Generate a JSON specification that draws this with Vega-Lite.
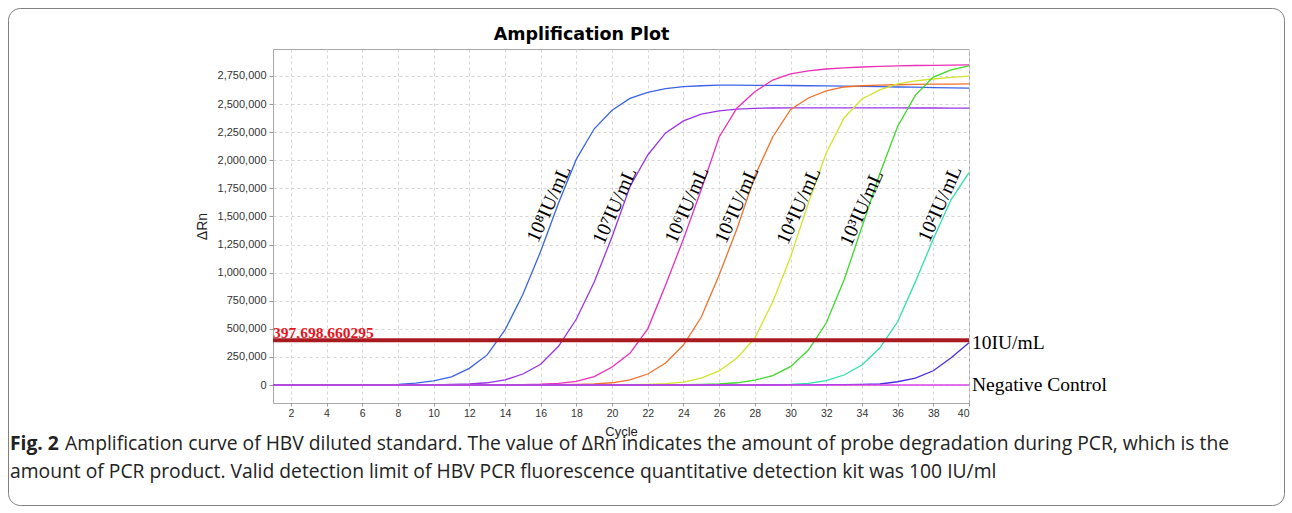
{
  "$schema": "https://vega.github.io/schema/vega-lite/v6.json",
  "autosize": "none",
  "width": 696,
  "height": 354,
  "padding": {"left": 273, "top": 49, "right": 323, "bottom": 110},
  "background": "white",
  "title": {
    "text": "Fig. 2",
    "subtitle": ["\u200b\u00a0\u00a0\u00a0\u00a0\u00a0\u00a0\u00a0\u00a0\u00a0\u00a0\u00a0Amplification curve of HBV diluted standard. The value of ΔRn indicates the amount of probe degradation during PCR, which is the", "amount of PCR product. Valid detection limit of HBV PCR fluorescence quantitative detection kit was 100 IU/ml"],
    "orient": "bottom",
    "anchor": "start",
    "frame": "group",
    "dx": -263,
    "offset": -71,
    "font": "Open Sans",
    "fontSize": 19.3,
    "fontWeight": "bold",
    "color": "#222222",
    "subtitleFont": "Open Sans",
    "subtitleFontSize": 19.3,
    "subtitleFontWeight": "normal",
    "subtitleColor": "#222222",
    "subtitleLineHeight": 28,
    "subtitlePadding": -19
  },
  "config": {
    "view": {"stroke": "#a8a8a8", "strokeWidth": 1},
    "axis": {
      "labelFont": "Liberation Sans",
      "labelColor": "#333333",
      "titleFont": "Liberation Sans",
      "titleFontWeight": "normal",
      "titleColor": "#222222",
      "tickColor": "#999999",
      "gridColor": "#d6d6d6",
      "gridDash": [3, 3],
      "gridWidth": 1,
      "domain": false,
      "labelOverlap": false
    }
  },
  "encoding": {
    "y": {"field": "v", "type": "quantitative",
          "scale": {"domain": [-160000, 2990000], "nice": false, "zero": false},
          "axis": {"orient": "left", "title": "ΔRn", "values": [0,250000,500000,750000,1000000,1250000,1500000,1750000,2000000,2250000,2500000,2750000],
                   "format": ",d", "labelFontSize": 11, "tickSize": 4, "labelPadding": 3, "titleFontSize": 14, "titlePadding": 8, "grid": true, "labelOverlap": false}}
  },
  "layer": [
    {
      "data": {"values": [
        {"s":"1e8","c":1,"v":0},{"s":"1e8","c":2,"v":0},{"s":"1e8","c":3,"v":0},{"s":"1e8","c":4,"v":0},{"s":"1e8","c":5,"v":0},{"s":"1e8","c":6,"v":1000},{"s":"1e8","c":7,"v":2000},{"s":"1e8","c":8,"v":6000},{"s":"1e8","c":9,"v":17000},{"s":"1e8","c":10,"v":37000},
        {"s":"1e8","c":11,"v":72000},{"s":"1e8","c":12,"v":148000},{"s":"1e8","c":13,"v":268000},{"s":"1e8","c":14,"v":490000},{"s":"1e8","c":15,"v":805000},{"s":"1e8","c":16,"v":1190000},{"s":"1e8","c":17,"v":1620000},{"s":"1e8","c":18,"v":2010000},{"s":"1e8","c":19,"v":2280000},{"s":"1e8","c":20,"v":2445000},
        {"s":"1e8","c":21,"v":2550000},{"s":"1e8","c":22,"v":2605000},{"s":"1e8","c":23,"v":2638000},{"s":"1e8","c":24,"v":2655000},{"s":"1e8","c":25,"v":2663000},{"s":"1e8","c":26,"v":2668000},{"s":"1e8","c":27,"v":2668000},{"s":"1e8","c":28,"v":2667000},{"s":"1e8","c":29,"v":2666000},{"s":"1e8","c":30,"v":2665000},
        {"s":"1e8","c":31,"v":2663000},{"s":"1e8","c":32,"v":2661000},{"s":"1e8","c":33,"v":2659000},{"s":"1e8","c":34,"v":2657000},{"s":"1e8","c":35,"v":2655000},{"s":"1e8","c":36,"v":2652000},{"s":"1e8","c":37,"v":2650000},{"s":"1e8","c":38,"v":2647000},{"s":"1e8","c":39,"v":2644000},{"s":"1e8","c":40,"v":2641000},

        {"s":"1e7","c":1,"v":0},{"s":"1e7","c":2,"v":0},{"s":"1e7","c":3,"v":0},{"s":"1e7","c":4,"v":0},{"s":"1e7","c":5,"v":0},{"s":"1e7","c":6,"v":0},{"s":"1e7","c":7,"v":0},{"s":"1e7","c":8,"v":0},{"s":"1e7","c":9,"v":1000},{"s":"1e7","c":10,"v":2000},
        {"s":"1e7","c":11,"v":5000},{"s":"1e7","c":12,"v":9000},{"s":"1e7","c":13,"v":20000},{"s":"1e7","c":14,"v":45000},{"s":"1e7","c":15,"v":98000},{"s":"1e7","c":16,"v":185000},{"s":"1e7","c":17,"v":345000},{"s":"1e7","c":18,"v":587000},{"s":"1e7","c":19,"v":917000},{"s":"1e7","c":20,"v":1320000},
        {"s":"1e7","c":21,"v":1765000},{"s":"1e7","c":22,"v":2047000},{"s":"1e7","c":23,"v":2243000},{"s":"1e7","c":24,"v":2350000},{"s":"1e7","c":25,"v":2410000},{"s":"1e7","c":26,"v":2440000},{"s":"1e7","c":27,"v":2455000},{"s":"1e7","c":28,"v":2462000},{"s":"1e7","c":29,"v":2465000},{"s":"1e7","c":30,"v":2466000},
        {"s":"1e7","c":31,"v":2467000},{"s":"1e7","c":32,"v":2467000},{"s":"1e7","c":33,"v":2467000},{"s":"1e7","c":34,"v":2467000},{"s":"1e7","c":35,"v":2466000},{"s":"1e7","c":36,"v":2466000},{"s":"1e7","c":37,"v":2465000},{"s":"1e7","c":38,"v":2465000},{"s":"1e7","c":39,"v":2464000},{"s":"1e7","c":40,"v":2463000},

        {"s":"1e6","c":1,"v":0},{"s":"1e6","c":2,"v":0},{"s":"1e6","c":3,"v":0},{"s":"1e6","c":4,"v":0},{"s":"1e6","c":5,"v":0},{"s":"1e6","c":6,"v":0},{"s":"1e6","c":7,"v":0},{"s":"1e6","c":8,"v":0},{"s":"1e6","c":9,"v":0},{"s":"1e6","c":10,"v":0},
        {"s":"1e6","c":11,"v":0},{"s":"1e6","c":12,"v":0},{"s":"1e6","c":13,"v":0},{"s":"1e6","c":14,"v":1000},{"s":"1e6","c":15,"v":3000},{"s":"1e6","c":16,"v":7000},{"s":"1e6","c":17,"v":15000},{"s":"1e6","c":18,"v":32000},{"s":"1e6","c":19,"v":75000},{"s":"1e6","c":20,"v":160000},
        {"s":"1e6","c":21,"v":282000},{"s":"1e6","c":22,"v":500000},{"s":"1e6","c":23,"v":890000},{"s":"1e6","c":24,"v":1300000},{"s":"1e6","c":25,"v":1740000},{"s":"1e6","c":26,"v":2207000},{"s":"1e6","c":27,"v":2465000},{"s":"1e6","c":28,"v":2610000},{"s":"1e6","c":29,"v":2714000},{"s":"1e6","c":30,"v":2768000},
        {"s":"1e6","c":31,"v":2795000},{"s":"1e6","c":32,"v":2812000},{"s":"1e6","c":33,"v":2822000},{"s":"1e6","c":34,"v":2830000},{"s":"1e6","c":35,"v":2836000},{"s":"1e6","c":36,"v":2840000},{"s":"1e6","c":37,"v":2843000},{"s":"1e6","c":38,"v":2845000},{"s":"1e6","c":39,"v":2847000},{"s":"1e6","c":40,"v":2848000},

        {"s":"1e5","c":1,"v":0},{"s":"1e5","c":2,"v":0},{"s":"1e5","c":3,"v":0},{"s":"1e5","c":4,"v":0},{"s":"1e5","c":5,"v":0},{"s":"1e5","c":6,"v":0},{"s":"1e5","c":7,"v":0},{"s":"1e5","c":8,"v":0},{"s":"1e5","c":9,"v":0},{"s":"1e5","c":10,"v":0},
        {"s":"1e5","c":11,"v":0},{"s":"1e5","c":12,"v":0},{"s":"1e5","c":13,"v":0},{"s":"1e5","c":14,"v":0},{"s":"1e5","c":15,"v":0},{"s":"1e5","c":16,"v":1000},{"s":"1e5","c":17,"v":3000},{"s":"1e5","c":18,"v":6000},{"s":"1e5","c":19,"v":11000},{"s":"1e5","c":20,"v":20000},
        {"s":"1e5","c":21,"v":45000},{"s":"1e5","c":22,"v":98000},{"s":"1e5","c":23,"v":196000},{"s":"1e5","c":24,"v":356000},{"s":"1e5","c":25,"v":605000},{"s":"1e5","c":26,"v":980000},{"s":"1e5","c":27,"v":1390000},{"s":"1e5","c":28,"v":1860000},{"s":"1e5","c":29,"v":2207000},{"s":"1e5","c":30,"v":2450000},
        {"s":"1e5","c":31,"v":2554000},{"s":"1e5","c":32,"v":2617000},{"s":"1e5","c":33,"v":2652000},{"s":"1e5","c":34,"v":2663000},{"s":"1e5","c":35,"v":2668000},{"s":"1e5","c":36,"v":2672000},{"s":"1e5","c":37,"v":2675000},{"s":"1e5","c":38,"v":2677000},{"s":"1e5","c":39,"v":2678000},{"s":"1e5","c":40,"v":2679000},

        {"s":"1e4","c":1,"v":0},{"s":"1e4","c":2,"v":0},{"s":"1e4","c":3,"v":0},{"s":"1e4","c":4,"v":0},{"s":"1e4","c":5,"v":0},{"s":"1e4","c":6,"v":0},{"s":"1e4","c":7,"v":0},{"s":"1e4","c":8,"v":0},{"s":"1e4","c":9,"v":0},{"s":"1e4","c":10,"v":0},
        {"s":"1e4","c":11,"v":0},{"s":"1e4","c":12,"v":0},{"s":"1e4","c":13,"v":0},{"s":"1e4","c":14,"v":0},{"s":"1e4","c":15,"v":0},{"s":"1e4","c":16,"v":0},{"s":"1e4","c":17,"v":0},{"s":"1e4","c":18,"v":0},{"s":"1e4","c":19,"v":0},{"s":"1e4","c":20,"v":1000},
        {"s":"1e4","c":21,"v":3000},{"s":"1e4","c":22,"v":6000},{"s":"1e4","c":23,"v":12000},{"s":"1e4","c":24,"v":25000},{"s":"1e4","c":25,"v":62000},{"s":"1e4","c":26,"v":125000},{"s":"1e4","c":27,"v":240000},{"s":"1e4","c":28,"v":418000},{"s":"1e4","c":29,"v":739000},{"s":"1e4","c":30,"v":1139000},
        {"s":"1e4","c":31,"v":1620000},{"s":"1e4","c":32,"v":2065000},{"s":"1e4","c":33,"v":2376000},{"s":"1e4","c":34,"v":2545000},{"s":"1e4","c":35,"v":2626000},{"s":"1e4","c":36,"v":2680000},{"s":"1e4","c":37,"v":2706000},{"s":"1e4","c":38,"v":2723000},{"s":"1e4","c":39,"v":2737000},{"s":"1e4","c":40,"v":2748000},

        {"s":"1e3","c":1,"v":0},{"s":"1e3","c":2,"v":0},{"s":"1e3","c":3,"v":0},{"s":"1e3","c":4,"v":0},{"s":"1e3","c":5,"v":0},{"s":"1e3","c":6,"v":0},{"s":"1e3","c":7,"v":0},{"s":"1e3","c":8,"v":0},{"s":"1e3","c":9,"v":0},{"s":"1e3","c":10,"v":0},
        {"s":"1e3","c":11,"v":0},{"s":"1e3","c":12,"v":0},{"s":"1e3","c":13,"v":0},{"s":"1e3","c":14,"v":0},{"s":"1e3","c":15,"v":0},{"s":"1e3","c":16,"v":0},{"s":"1e3","c":17,"v":0},{"s":"1e3","c":18,"v":0},{"s":"1e3","c":19,"v":0},{"s":"1e3","c":20,"v":0},
        {"s":"1e3","c":21,"v":0},{"s":"1e3","c":22,"v":0},{"s":"1e3","c":23,"v":2000},{"s":"1e3","c":24,"v":3000},{"s":"1e3","c":25,"v":5000},{"s":"1e3","c":26,"v":9000},{"s":"1e3","c":27,"v":20000},{"s":"1e3","c":28,"v":44000},{"s":"1e3","c":29,"v":83000},{"s":"1e3","c":30,"v":163000},
        {"s":"1e3","c":31,"v":311000},{"s":"1e3","c":32,"v":552000},{"s":"1e3","c":33,"v":934000},{"s":"1e3","c":34,"v":1406000},{"s":"1e3","c":35,"v":1880000},{"s":"1e3","c":36,"v":2300000},{"s":"1e3","c":37,"v":2580000},{"s":"1e3","c":38,"v":2740000},{"s":"1e3","c":39,"v":2805000},{"s":"1e3","c":40,"v":2840000},

        {"s":"1e2","c":1,"v":0},{"s":"1e2","c":2,"v":0},{"s":"1e2","c":3,"v":0},{"s":"1e2","c":4,"v":0},{"s":"1e2","c":5,"v":0},{"s":"1e2","c":6,"v":0},{"s":"1e2","c":7,"v":0},{"s":"1e2","c":8,"v":0},{"s":"1e2","c":9,"v":0},{"s":"1e2","c":10,"v":0},
        {"s":"1e2","c":11,"v":0},{"s":"1e2","c":12,"v":0},{"s":"1e2","c":13,"v":0},{"s":"1e2","c":14,"v":0},{"s":"1e2","c":15,"v":0},{"s":"1e2","c":16,"v":0},{"s":"1e2","c":17,"v":0},{"s":"1e2","c":18,"v":0},{"s":"1e2","c":19,"v":0},{"s":"1e2","c":20,"v":0},
        {"s":"1e2","c":21,"v":0},{"s":"1e2","c":22,"v":0},{"s":"1e2","c":23,"v":0},{"s":"1e2","c":24,"v":0},{"s":"1e2","c":25,"v":0},{"s":"1e2","c":26,"v":0},{"s":"1e2","c":27,"v":0},{"s":"1e2","c":28,"v":1000},{"s":"1e2","c":29,"v":3000},{"s":"1e2","c":30,"v":6000},
        {"s":"1e2","c":31,"v":15000},{"s":"1e2","c":32,"v":40000},{"s":"1e2","c":33,"v":89000},{"s":"1e2","c":34,"v":178000},{"s":"1e2","c":35,"v":329000},{"s":"1e2","c":36,"v":563000},{"s":"1e2","c":37,"v":920000},{"s":"1e2","c":38,"v":1300000},{"s":"1e2","c":39,"v":1650000},{"s":"1e2","c":40,"v":1890000},

        {"s":"1e1","c":1,"v":0},{"s":"1e1","c":2,"v":0},{"s":"1e1","c":3,"v":0},{"s":"1e1","c":4,"v":0},{"s":"1e1","c":5,"v":0},{"s":"1e1","c":6,"v":0},{"s":"1e1","c":7,"v":0},{"s":"1e1","c":8,"v":0},{"s":"1e1","c":9,"v":0},{"s":"1e1","c":10,"v":0},
        {"s":"1e1","c":11,"v":0},{"s":"1e1","c":12,"v":0},{"s":"1e1","c":13,"v":0},{"s":"1e1","c":14,"v":0},{"s":"1e1","c":15,"v":0},{"s":"1e1","c":16,"v":0},{"s":"1e1","c":17,"v":0},{"s":"1e1","c":18,"v":0},{"s":"1e1","c":19,"v":0},{"s":"1e1","c":20,"v":0},
        {"s":"1e1","c":21,"v":0},{"s":"1e1","c":22,"v":0},{"s":"1e1","c":23,"v":0},{"s":"1e1","c":24,"v":0},{"s":"1e1","c":25,"v":0},{"s":"1e1","c":26,"v":0},{"s":"1e1","c":27,"v":0},{"s":"1e1","c":28,"v":0},{"s":"1e1","c":29,"v":0},{"s":"1e1","c":30,"v":1000},
        {"s":"1e1","c":31,"v":2000},{"s":"1e1","c":32,"v":3000},{"s":"1e1","c":33,"v":4000},{"s":"1e1","c":34,"v":6000},{"s":"1e1","c":35,"v":9000},{"s":"1e1","c":36,"v":29000},{"s":"1e1","c":37,"v":62000},{"s":"1e1","c":38,"v":127000},{"s":"1e1","c":39,"v":243000},{"s":"1e1","c":40,"v":376000},

        {"s":"NC","c":1,"v":0},{"s":"NC","c":2,"v":0},{"s":"NC","c":3,"v":0},{"s":"NC","c":4,"v":0},{"s":"NC","c":5,"v":0},{"s":"NC","c":6,"v":0},{"s":"NC","c":7,"v":0},{"s":"NC","c":8,"v":0},{"s":"NC","c":9,"v":0},{"s":"NC","c":10,"v":0},
        {"s":"NC","c":11,"v":0},{"s":"NC","c":12,"v":0},{"s":"NC","c":13,"v":0},{"s":"NC","c":14,"v":0},{"s":"NC","c":15,"v":0},{"s":"NC","c":16,"v":0},{"s":"NC","c":17,"v":0},{"s":"NC","c":18,"v":0},{"s":"NC","c":19,"v":0},{"s":"NC","c":20,"v":0},
        {"s":"NC","c":21,"v":0},{"s":"NC","c":22,"v":0},{"s":"NC","c":23,"v":0},{"s":"NC","c":24,"v":0},{"s":"NC","c":25,"v":0},{"s":"NC","c":26,"v":0},{"s":"NC","c":27,"v":0},{"s":"NC","c":28,"v":0},{"s":"NC","c":29,"v":0},{"s":"NC","c":30,"v":0},
        {"s":"NC","c":31,"v":0},{"s":"NC","c":32,"v":0},{"s":"NC","c":33,"v":0},{"s":"NC","c":34,"v":0},{"s":"NC","c":35,"v":0},{"s":"NC","c":36,"v":0},{"s":"NC","c":37,"v":0},{"s":"NC","c":38,"v":0},{"s":"NC","c":39,"v":0},{"s":"NC","c":40,"v":0}
      ]},
      "mark": {"type": "line", "strokeWidth": 1.3},
      "encoding": {
        "x": {"field": "c", "type": "quantitative",
              "scale": {"domain": [1, 40], "nice": false, "zero": false},
              "axis": {"orient": "bottom", "title": "Cycle", "values": [2,4,6,8,10,12,14,16,18,20,22,24,26,28,30,32,34,36,38,40],
                       "labelFontSize": 10.5, "tickSize": 3, "labelPadding": 2, "titleFontSize": 13, "titlePadding": 7, "grid": true}},
        "color": {"field": "s", "type": "nominal", "legend": null,
                  "scale": {"domain": ["1e8","1e7","1e6","1e5","1e4","1e3","1e2","1e1","NC"],
                            "range": ["#3b64e6","#9a34e8","#ec2fb8","#f0712c","#d2e42a","#3ed92a","#2fe0a8","#4a2fe0","#d845e6"]}}
      }
    },
    {
      "data": {"values": [{"c1": 1, "c2": 40, "v": 397698.660295, "label": "397,698.660295"}]},
      "layer": [
        {
          "mark": {"type": "rule", "color": "#a81a20", "strokeWidth": 4},
          "encoding": {
            "x": {"field": "c1", "type": "quantitative", "axis": null},
            "x2": {"field": "c2"}
          }
        },
        {
          "mark": {"type": "text", "align": "left", "baseline": "alphabetic", "dy": -2.5,
                   "font": "Liberation Serif", "fontSize": 15.5, "fontWeight": "bold", "color": "#e8141c"},
          "encoding": {
            "x": {"field": "c1", "type": "quantitative", "axis": null},
            "text": {"field": "label"}
          }
        }
      ]
    },
    {
      "data": {"values": [
        {"label": "10IU/mL", "c": 40, "v": 376000},
        {"label": "Negative Control", "c": 40, "v": 0}
      ]},
      "mark": {"type": "text", "align": "left", "baseline": "middle", "dx": 3,
               "font": "Liberation Serif", "fontSize": 19.5},
      "encoding": {
        "x": {"field": "c", "type": "quantitative", "axis": null},
        "text": {"field": "label"},
        "fill": {"datum": 1, "type": "quantitative",
                 "scale": {"domain": [0, 1], "range": ["#000000", "#000000"]},
                 "legend": {"orient": "none", "legendX": -265, "legendY": -41, "direction": "horizontal",
                            "title": null, "values": [], "padding": 0,
                            "gradientLength": 1276, "gradientThickness": 497,
                            "gradientOpacity": 0, "gradientStrokeWidth": 0,
                            "strokeColor": "#808080", "cornerRadius": 12}}
      }
    },
    {
      "data": {"values": [
        {"label": "10⁸IU/mL", "c": 16.47, "v": 1611000},
        {"label": "10⁷IU/mL", "c": 20.16, "v": 1593000},
        {"label": "10⁶IU/mL", "c": 24.2, "v": 1602000},
        {"label": "10⁵IU/mL", "c": 27.0, "v": 1602000},
        {"label": "10⁴IU/mL", "c": 30.47, "v": 1593000},
        {"label": "10³IU/mL", "c": 34.0, "v": 1575000},
        {"label": "10²IU/mL", "c": 38.38, "v": 1611000}
      ]},
      "mark": {"type": "text", "align": "center", "baseline": "middle", "angle": 294,
               "font": "Liberation Serif", "fontSize": 20, "color": "#000000"},
      "encoding": {
        "x": {"field": "c", "type": "quantitative",
              "axis": {"orient": "top", "title": "Amplification Plot", "labels": false, "ticks": false, "domain": false, "grid": false,
                       "titleFont": "DejaVu Sans", "titleFontWeight": "bold", "titleFontSize": 17.5, "titleColor": "#000000",
                       "titlePadding": 6, "titleX": 308}},
        "text": {"field": "label"}
      }
    }
  ]
}
